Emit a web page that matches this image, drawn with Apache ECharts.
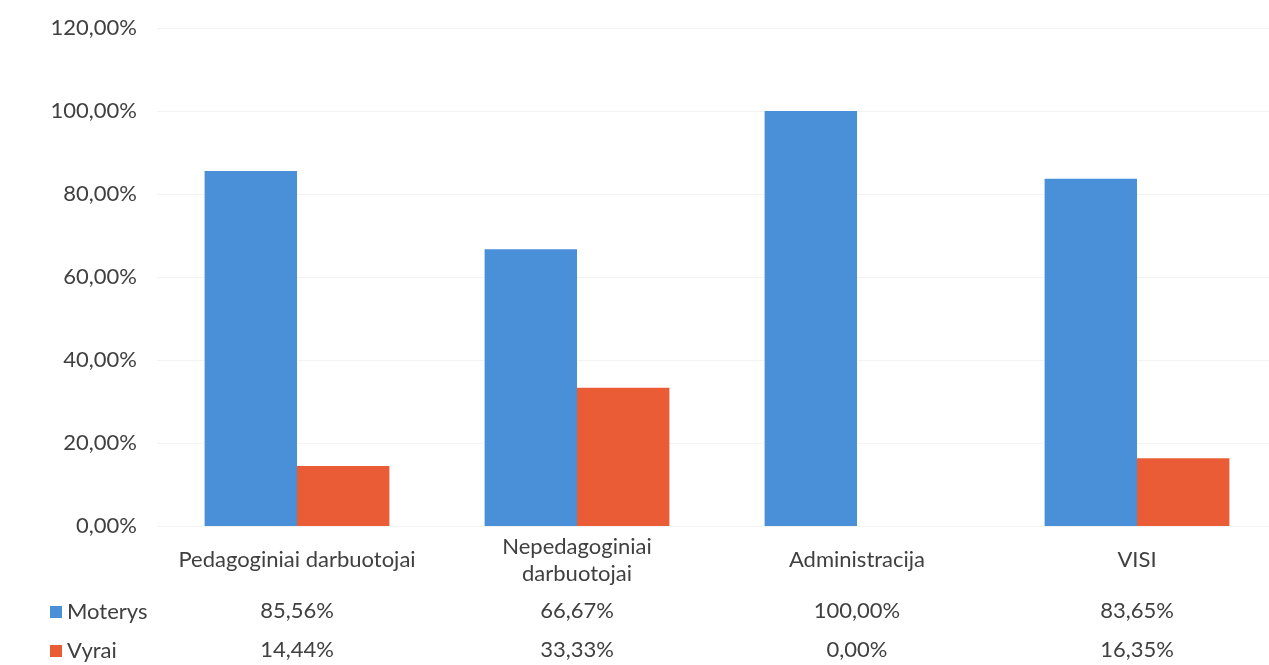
<!DOCTYPE html>
<html>
<head>
<meta charset="utf-8">
<script src="https://cdn.jsdelivr.net/npm/echarts@6/dist/echarts.min.js"></script>
<style>
  html, body { margin: 0; padding: 0; background: #fff; overflow: hidden; }
  #chart { width: 1285px; height: 665px; }
</style>
</head>
<body>
<div id="chart"></div>
<script>
const categories = ['Pedagoginiai darbuotojai', 'Nepedagoginiai\ndarbuotojai', 'Administracija', 'VISI'];
const moterys = [85.56, 66.67, 100.00, 83.65];
const vyrai = [14.44, 33.33, 0.00, 16.35];
const yTicks = { min: 0, max: 120, interval: 20 };

const fmt = v => v.toFixed(2).replace('.', ',') + '%';
const font = 'Lato';
const textColor = '#404040';
const fontSize = 22;

const chart = echarts.init(document.getElementById('chart'));

// extra bottom axes used as the data table rows
const tableRow = (values, margin) => ({
  type: 'category',
  data: categories,
  position: 'bottom',
  axisLine: { show: false },
  axisTick: { show: false },
  axisLabel: {
    margin: margin,
    verticalAlign: 'middle',
    fontFamily: font,
    fontSize: fontSize,
    color: textColor,
    formatter: (val, idx) => fmt(values[idx])
  }
});

const legendText = { fontFamily: font, fontSize: fontSize, color: textColor };

chart.setOption({
  animation: false,
  textStyle: { fontFamily: font },
  grid: { left: 157, top: 28, width: 1120, bottom: 139, containLabel: false },
  legend: [
    { data: ['Moterys'], left: 45, top: 596, itemWidth: 12, itemHeight: 12, icon: 'rect', textStyle: legendText },
    { data: ['Vyrai'], left: 45, top: 635, itemWidth: 12, itemHeight: 12, icon: 'rect', textStyle: legendText }
  ],
  xAxis: [
    {
      type: 'category',
      data: categories,
      axisLine: { show: false },
      axisTick: { show: false },
      axisLabel: {
        margin: 34,
        verticalAlign: 'middle',
        interval: 0,
        fontFamily: font,
        fontSize: fontSize,
        lineHeight: 27,
        color: textColor
      }
    },
    tableRow(moterys, 85),
    tableRow(vyrai, 124)
  ],
  yAxis: {
    type: 'value',
    min: yTicks.min,
    max: yTicks.max,
    interval: yTicks.interval,
    axisLine: { show: false },
    axisTick: { show: false },
    splitLine: { lineStyle: { color: '#f3f3f3' } },
    axisLabel: {
      margin: 20,
      fontFamily: font,
      fontSize: fontSize,
      color: textColor,
      formatter: v => fmt(v)
    }
  },
  series: [
    {
      name: 'Moterys', type: 'bar', data: moterys,
      barGap: '0%', barCategoryGap: '34%',
      itemStyle: { color: '#4a90d9' }
    },
    {
      name: 'Vyrai', type: 'bar', data: vyrai,
      itemStyle: { color: '#e95c36' }
    }
  ]
});
</script>
</body>
</html>
